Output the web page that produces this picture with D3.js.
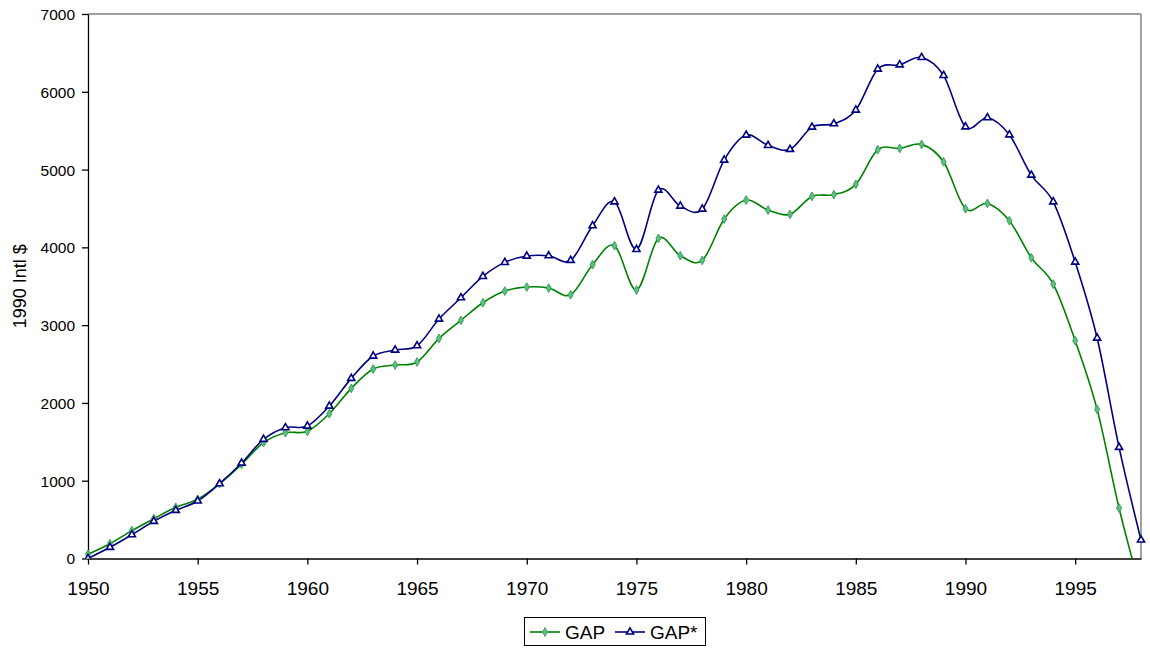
<!DOCTYPE html>
<html><head><meta charset="utf-8">
<script src="https://cdn.jsdelivr.net/npm/d3@7"></script>
<style>body{margin:0;background:#fff}svg{display:block}text{font-family:"Liberation Sans",Arial,sans-serif}</style>
</head><body><svg id="c" width="1150" height="650"></svg>
<script>
const years = d3.range(1950, 1999);
const gap = [54,190,358,512,658,761,962,1210,1489,1617,1635,1861,2187,2436,2487,2526,2830,3062,3288,3438,3490,3477,3391,3777,4021,3451,4115,3892,3833,4364,4608,4479,4424,4655,4677,4810,5255,5272,5324,5100,4496,4565,4342,3866,3528,2800,1917,649,-420];
const gapStar = [0,144,306,478,619,739,962,1227,1532,1682,1703,1960,2316,2603,2680,2735,3078,3352,3627,3807,3888,3892,3833,4278,4586,3974,4736,4531,4492,5122,5443,5311,5260,5546,5589,5765,6292,6347,6442,6211,5550,5666,5447,4929,4586,3811,2834,1429,238];
const xTicks = [1950,1955,1960,1965,1970,1975,1980,1985,1990,1995];
const yTicks = [0,1000,2000,3000,4000,5000,6000,7000];
const seriesNames = ["GAP","GAP*"];

const svg = d3.select("#c");
const L=88, R=1141, T=14, B=558.5;
const x = d3.scaleLinear().domain([1950,1998]).range([L,R]);
const y = d3.scaleLinear().domain([0,7000]).range([B,T]);

svg.append("defs").append("clipPath").attr("id","clip").append("rect")
  .attr("x",L-6).attr("y",T-6).attr("width",R-L+12).attr("height",B-T+6);

// frame top/right
svg.append("line").attr("x1",L).attr("x2",R).attr("y1",T).attr("y2",T).attr("stroke","#808080").attr("stroke-width",1.5);
svg.append("line").attr("x1",R).attr("x2",R).attr("y1",T).attr("y2",B).attr("stroke","#808080").attr("stroke-width",1.5);

const xa = svg.append("g").attr("transform",`translate(0,${B})`)
  .call(d3.axisBottom(x).tickValues(xTicks).tickFormat(d3.format("d")).tickSize(6).tickSizeOuter(0));
const ya = svg.append("g").attr("transform",`translate(${L},0)`)
  .call(d3.axisLeft(y).tickValues(yTicks).tickFormat(d3.format("d")).tickSize(6).tickSizeOuter(0));
[xa,ya].forEach(g=>{
  g.selectAll("path,line").attr("stroke","#000").attr("stroke-width",1.3);
  g.selectAll("text").attr("fill","#000").style("font-family","Liberation Sans, Arial, sans-serif");
});
xa.selectAll("text").attr("font-size",19).attr("dy",0).attr("y",36);
ya.selectAll("text").attr("font-size",15.5).attr("dy","0.35em").attr("x",-13);

svg.append("text").attr("transform",`translate(26,${(T+B)/2}) rotate(-90)`)
  .attr("text-anchor","middle").attr("font-size",18).text("1990 Intl $");

const plot = svg.append("g").attr("clip-path","url(#clip)");
const line = d3.line().x((d,i)=>x(years[i])).y(d=>y(d)).curve(d3.curveCardinal.tension(0));

plot.append("path").datum(gap).attr("d",line).attr("fill","none").attr("stroke","#008000").attr("stroke-width",1.6);
plot.append("path").datum(gapStar).attr("d",line).attr("fill","none").attr("stroke","#000080").attr("stroke-width",1.6);

const diamond = d3.symbol().type(d3.symbolDiamond).size(22);
const tri = d3.symbol().type(d3.symbolTriangle).size(22);
plot.selectAll(".g").data(gap).join("path")
  .attr("transform",(d,i)=>`translate(${x(years[i])},${y(d)})`)
  .attr("d",diamond).attr("fill","#5fbf80").attr("stroke","#3aa060").attr("stroke-width",1);
plot.selectAll(".b").data(gapStar).join("path")
  .attr("transform",(d,i)=>`translate(${x(years[i])},${y(d)})`)
  .attr("d",tri).attr("fill","#fff").attr("stroke","#000080").attr("stroke-width",1.6);

// legend
const lg = svg.append("g");
lg.append("rect").attr("x",524.5).attr("y",617.5).attr("width",181).attr("height",28).attr("fill","#fff").attr("stroke","#000").attr("stroke-width",1);
lg.append("line").attr("x1",530).attr("x2",560).attr("y1",632).attr("y2",632).attr("stroke","#008000").attr("stroke-width",1.6);
lg.append("path").attr("transform","translate(545,632)").attr("d",diamond).attr("fill","#5fbf80").attr("stroke","#3aa060");
lg.append("text").attr("x",565).attr("y",638.5).attr("font-size",19).text(seriesNames[0]);
lg.append("line").attr("x1",615).attr("x2",645).attr("y1",632).attr("y2",632).attr("stroke","#000080").attr("stroke-width",1.6);
lg.append("path").attr("transform","translate(630,632)").attr("d",tri).attr("fill","#fff").attr("stroke","#000080").attr("stroke-width",1.6);
lg.append("text").attr("x",650).attr("y",638.5).attr("font-size",19).text(seriesNames[1]);
</script></body></html>
